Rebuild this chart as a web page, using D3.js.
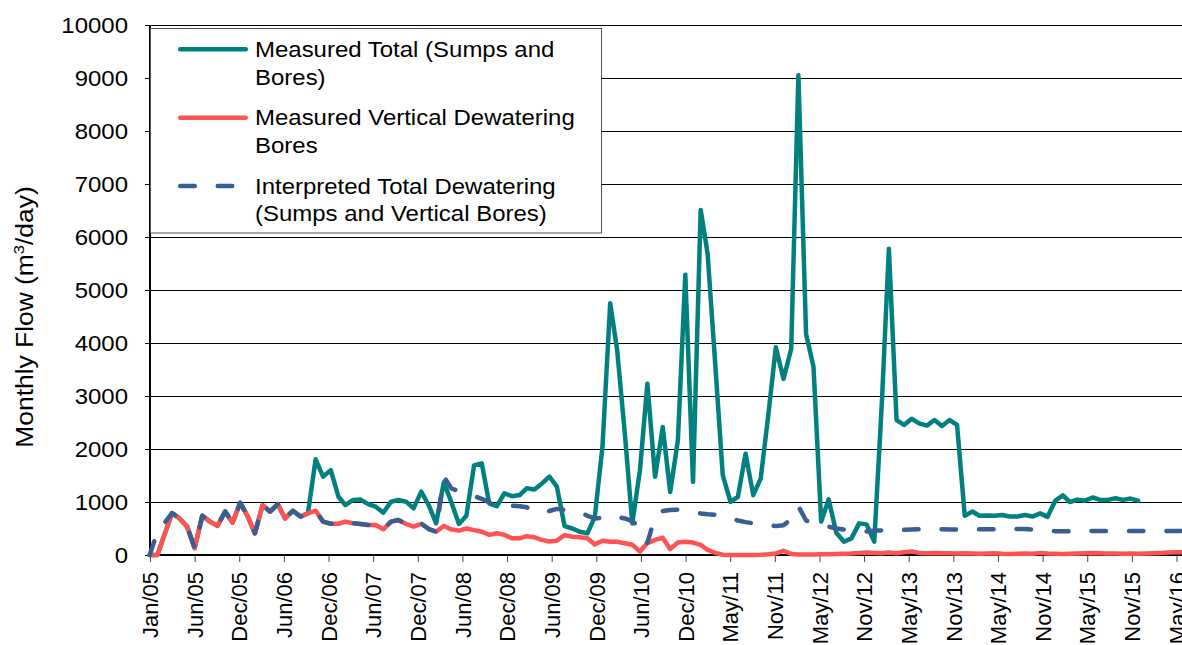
<!DOCTYPE html>
<html><head><meta charset="utf-8">
<script src="https://cdn.jsdelivr.net/npm/d3@7/dist/d3.min.js"></script>
<style>
html,body{margin:0;padding:0;background:#fff;}
svg{display:block;}
text{font-family:"Liberation Sans",Arial,Helvetica,sans-serif;fill:#000;}
</style></head><body>
<svg id="chart" width="1182" height="645"></svg>
<script>
// ---- data (monthly, Dec 2004 onwards, plotted at month end) ----
const firstMonth = "2004-12";
const lastMonth = "2016-05";

const measuredTotal = [
  0,
  0, 380, 790, 690, 535, 130, 740, 630, 550, 820, 610, 985,
  720, 410, 940, 820, 960, 690, 835, 725, 785, 1805, 1480, 1600,
  1100, 943, 1038, 1045, 960, 912, 800, 1006, 1038, 1006, 880, 1195,
  930, 597, 1370, 1000, 585, 740, 1690, 1730, 975, 920, 1164, 1110,
  1132, 1258, 1235, 1345, 1478, 1289, 545, 500, 440, 409, 720, 2050,
  4750, 3870, 2300, 596, 1600, 3230, 1475, 2414, 1191, 2163, 5290, 1380,
  6510, 5680, 3580, 1505, 1003, 1097, 1912, 1129, 1442, 2650, 3918, 3323,
  3887, 9050, 4169, 3550, 629, 1050, 420, 251, 314, 597, 578, 251,
  2900, 5780, 2547, 2453, 2570, 2484, 2440, 2547, 2434, 2547, 2453, 740,
  820, 740, 745, 740, 755, 725, 725, 755, 725, 786, 720, 1025,
  1125, 1000, 1045, 1025, 1085, 1040, 1040, 1070, 1040, 1065, 1025
];

const measuredVertical = [
  0,
  0, 380, 790, 690, 535, 130, 740, 630, 550, 820, 610, 985,
  720, 410, 940, 820, 960, 690, 835, 725, 785, 835, 630, 590,
  590, 630, 600, 585, 565, 565, 485, 630, 660, 585, 535, 590,
  490, 440, 547, 484, 460, 500, 470, 440, 380, 410, 380, 315,
  315, 355, 335, 285, 255, 270, 375, 345, 335, 315, 200, 270,
  250, 250, 220, 195, 65, 225, 285, 325, 110, 235, 250, 235,
  190, 95, 40, 5, 0, 0, 0, 0, 5, 15, 30, 80,
  20, 10, 10, 10, 15, 15, 20, 25, 30, 40, 45, 40,
  35, 45, 35, 50, 65, 40, 35, 40, 35, 35, 30, 35,
  30, 25, 30, 35, 25, 20, 25, 30, 25, 40, 30, 25,
  20, 25, 30, 35, 40, 35, 30, 30, 25, 30, 25, 30,
  35, 40, 45, 50, 50
];

const interpretedTotal = [
  0,
  450, 600, 790, 690, 535, 130, 740, 630, 550, 820, 610, 985,
  720, 410, 940, 820, 960, 690, 835, 725, 785, 835, 630, 590,
  590, 630, 600, 585, 565, 565, 485, 630, 660, 585, 535, 590,
  490, 440, 1480, 1260, 1200, 1150, 1110, 1060, 990, 950, 940, 930,
  920, 900, 850, 790, 830, 870, 850, 830, 810, 740, 690, 700,
  750, 720, 690, 640, 510, 230, 720, 830, 850, 855, 840, 810,
  785, 770, 760, 740, 700, 650, 620, 600, 585, 565, 545, 560,
  680, 920, 650, 605, 570, 535, 500, 480, 470, 455, 445, 460,
  465, 470, 472, 475, 480, 485, 488, 485, 485, 480, 480, 480,
  480, 485, 485, 485, 490, 490, 490, 490, 480, 470, 455, 450,
  450, 450, 455, 455, 455, 455, 455, 455, 455, 455, 455, 455,
  455, 455, 455, 455, 455
];

const yTicks = [0, 1000, 2000, 3000, 4000, 5000, 6000, 7000, 8000, 9000, 10000];
const xTickLabels = ["Jan/05","Jun/05","Dec/05","Jun/06","Dec/06","Jun/07","Dec/07","Jun/08",
  "Dec/08","Jun/09","Dec/09","Jun/10","Dec/10","May/11","Nov/11","May/12","Nov/12","May/13",
  "Nov/13","May/14","Nov/14","May/15","Nov/15","May/16"];
const xTickStart = "2005-01-01";
const xTickStepDays = 180;

const legendLabels = [
  ["Measured Total (Sumps and", "Bores)"],
  ["Measured Vertical Dewatering", "Bores"],
  ["Interpreted Total Dewatering", "(Sumps and Vertical Bores)"]
];
const yTitle = "Monthly Flow (m";

// ---- layout ----
const W = 1182, H = 645;
const L = 150, T = 25, B = 555;
const colors = ["#00807F", "#FF5252", "#395E91"];
const FS = 22, SX = 1.09;

const svg = d3.select("#chart");
const parseM = d3.utcParse("%Y-%m");
const monthStarts = d3.utcMonth.range(parseM(firstMonth), d3.utcMonth.offset(parseM(lastMonth), 1));
const monthDates = monthStarts.map(m => d3.utcDay.offset(d3.utcMonth.offset(m, 1), -1));

const t0 = d3.utcParse("%Y-%m-%d")(xTickStart);
const tickDates = xTickLabels.map((_, i) => d3.utcDay.offset(t0, xTickStepDays * i));

const x = d3.scaleUtc().domain([t0, tickDates[tickDates.length - 1]]).range([L, 1176.5]);
const y = d3.scaleLinear().domain([0, 10000]).range([B, T]);

// gridlines
const grid = svg.append("g").attr("class", "grid");
grid.selectAll("line").data(yTicks.filter(v => v > 0)).join("line")
  .attr("x1", L).attr("x2", W)
  .attr("y1", d => Math.round(y(d)) + 0.5).attr("y2", d => Math.round(y(d)) + 0.5)
  .attr("stroke", "#000").attr("stroke-width", 1);

// y axis
const yAxis = svg.append("g").attr("transform", `translate(${L},0)`)
  .call(d3.axisLeft(y).tickValues(yTicks).tickFormat(d3.format("d")).tickSizeInner(5).tickSizeOuter(0).tickPadding(17));
yAxis.select(".domain").remove();
yAxis.selectAll(".tick line").attr("stroke", "#000");
yAxis.selectAll(".tick text")
  .attr("font-size", FS).attr("font-family", null)
  .attr("transform", function(){ const xx = +d3.select(this).attr("x"); d3.select(this).attr("x", 0); return `translate(${xx},0) scale(${SX},1)`; });

// x axis
const xAxis = svg.append("g").attr("transform", `translate(0,${B})`)
  .call(d3.axisBottom(x).tickValues(tickDates).tickFormat((d, i) => xTickLabels[i]).tickSizeInner(7).tickSizeOuter(0));
xAxis.select(".domain").remove();
xAxis.selectAll(".tick line").attr("stroke", "#444");
xAxis.selectAll(".tick text")
  .attr("font-size", FS).attr("font-family", null)
  .attr("transform", "rotate(-90)")
  .attr("x", -17).attr("y", 0).attr("dy", "0.35em")
  .style("text-anchor", "end");

// axis lines
svg.append("line").attr("x1", L).attr("x2", L).attr("y1", T).attr("y2", B + 1)
  .attr("stroke", "#000").attr("stroke-width", 2);
svg.append("line").attr("x1", L - 1).attr("x2", W).attr("y1", B).attr("y2", B)
  .attr("stroke", "#000").attr("stroke-width", 2);

// series
const line = d3.line().x((d, i) => x(monthDates[i])).y(d => y(d));
const series = [
  {vals: measuredTotal, color: colors[0], dash: null},
  {vals: measuredVertical, color: colors[1], dash: null},
  {vals: interpretedTotal, color: colors[2], dash: "14.5,23"}
];
svg.append("g").selectAll("path").data(series).join("path")
  .attr("d", s => line(s.vals))
  .attr("fill", "none")
  .attr("stroke", s => s.color)
  .attr("stroke-width", 4.5)
  .attr("stroke-linejoin", "round")
  .attr("stroke-linecap", "round")
  .attr("stroke-dasharray", s => s.dash);

// legend
const lg = svg.append("g");
lg.append("rect").attr("x", 150.5).attr("y", 28.5).attr("width", 451).attr("height", 204.5)
  .attr("fill", "#fff").attr("stroke", "#555").attr("stroke-width", 1);
const rowsY = [49.3, 117.7, 186];
const textY = [[57, 85], [125, 153], [194, 221]];
series.forEach((s, i) => {
  lg.append("line").attr("x1", 180.25).attr("x2", i === 2 ? 246 : 245.75)
    .attr("y1", rowsY[i]).attr("y2", rowsY[i])
    .attr("stroke", s.color).attr("stroke-width", 4.5).attr("stroke-linecap", "round")
    .attr("stroke-dasharray", s.dash);
  legendLabels[i].forEach((txt, j) => {
    lg.append("text").attr("transform", `translate(255,${textY[i][j]}) scale(${SX},1)`)
      .attr("font-size", FS).text(txt);
  });
});

// y title
const yt = svg.append("text").attr("transform", "translate(33,317) rotate(-90) scale(1.1,1)")
  .attr("text-anchor", "middle").attr("font-size", 24);
yt.append("tspan").text(yTitle);
yt.append("tspan").attr("font-size", 15).attr("dy", -9).text("3");
yt.append("tspan").attr("dy", 9).text("/day)");
</script>
</body></html>
